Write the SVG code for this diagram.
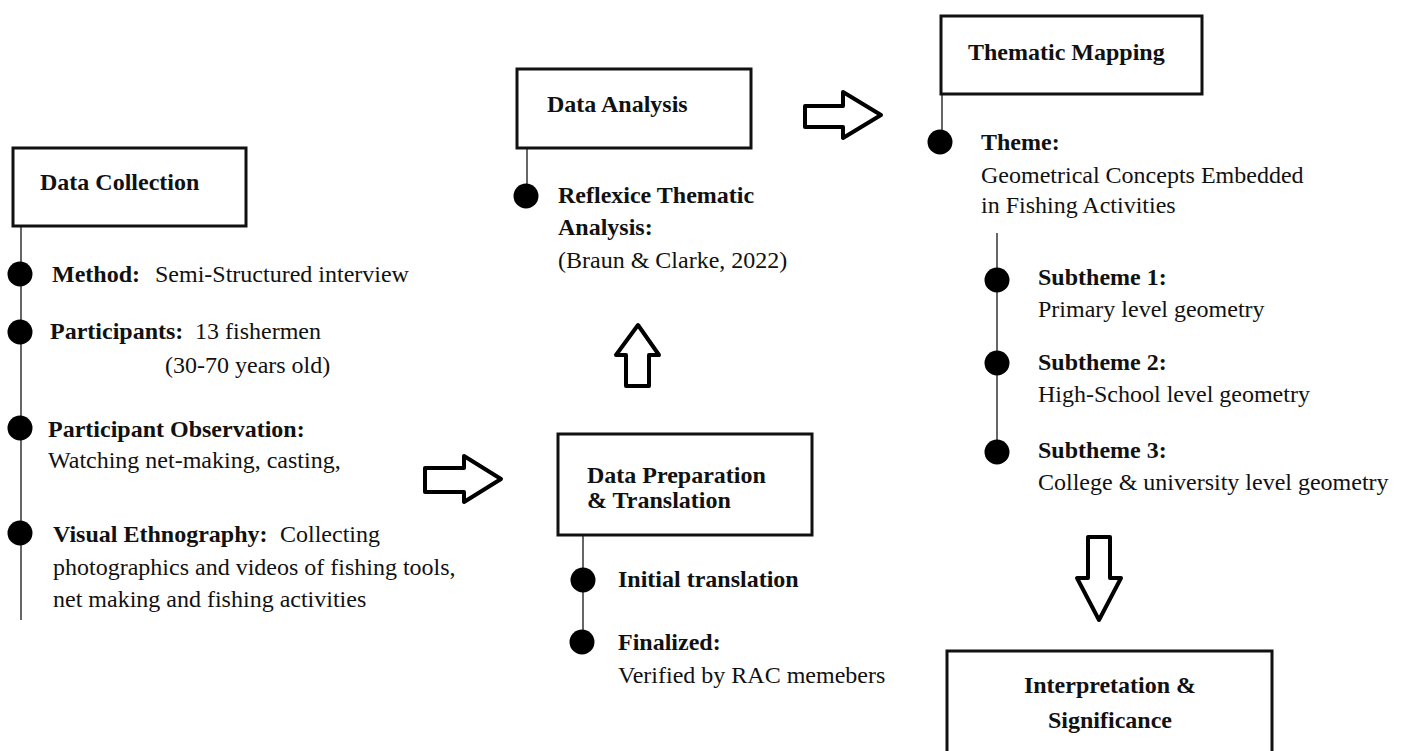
<svg xmlns="http://www.w3.org/2000/svg" width="1411" height="751" viewBox="0 0 1411 751">
<style>
text{font-family:"Liberation Serif","Times New Roman",serif;font-size:24px;fill:#111}
.b{font-weight:bold}
.box{fill:#fff;stroke:#111;stroke-width:3}
.stem{stroke:#666;stroke-width:2;fill:none}
.dot{fill:#000}
.arr{fill:#fff;stroke:#000;stroke-width:4;stroke-linejoin:round}
</style>
<rect width="1411" height="751" fill="#fff"/>
<g id="connectors">
<line class="stem" x1="21" y1="226" x2="21" y2="620"/>
<line class="stem" x1="527" y1="148" x2="527" y2="196"/>
<line class="stem" x1="583" y1="535" x2="583" y2="642"/>
<line class="stem" x1="942" y1="94" x2="942" y2="142"/>
<line class="stem" x1="997" y1="233" x2="997" y2="452"/>
<path class="arr" d="M805,106 L843,106 L843,92 L881,115 L843,138 L843,127 L805,127 Z"/>
<path class="arr" d="M425,468 L464,468 L464,456 L501,479 L464,502 L464,492 L425,492 Z"/>
<path class="arr" d="M638,325 L659,355 L649,355 L649,386 L626,386 L626,355 L616,355 Z"/>
<path class="arr" d="M1088,537 L1110,537 L1110,578 L1121,578 L1099,620 L1077,578 L1088,578 Z"/>
</g>
<g id="data-collection">
<rect class="box" x="13" y="148" width="233" height="78"/>
<text class="b" x="40" y="190">Data Collection</text>
<circle class="dot" cx="20" cy="274" r="12.5"/>
<circle class="dot" cx="20" cy="332" r="12.5"/>
<circle class="dot" cx="20" cy="428" r="12.5"/>
<circle class="dot" cx="20" cy="533" r="12.5"/>
<text x="52" y="282"><tspan class="b">Method:</tspan><tspan x="155">Semi-Structured interview</tspan></text>
<text x="50" y="339"><tspan class="b">Participants:</tspan><tspan x="195">13 fishermen</tspan></text>
<text x="165" y="373">(30-70 years old)</text>
<text class="b" x="48" y="437">Participant Observation:</text>
<text x="48" y="468">Watching net-making, casting,</text>
<text x="53" y="542"><tspan class="b">Visual Ethnography:</tspan><tspan x="280">Collecting</tspan></text>
<text x="53" y="575">photographics and videos of fishing tools,</text>
<text x="53" y="607">net making and fishing activities</text>
</g>
<g id="data-analysis">
<rect class="box" x="517" y="69" width="234" height="79"/>
<text class="b" x="547" y="112">Data Analysis</text>
<circle class="dot" cx="526" cy="196" r="12.5"/>
<text class="b" x="558" y="203">Reflexice Thematic</text>
<text class="b" x="558" y="235">Analysis:</text>
<text x="558" y="268">(Braun &amp; Clarke, 2022)</text>
</g>
<g id="data-preparation">
<rect class="box" x="558" y="434" width="254" height="101"/>
<text class="b" x="587" y="483">Data Preparation</text>
<text class="b" x="587" y="508">&amp; Translation</text>
<circle class="dot" cx="583" cy="580" r="12.5"/>
<circle class="dot" cx="582" cy="642" r="12.5"/>
<text class="b" x="618" y="587">Initial translation</text>
<text class="b" x="618" y="650">Finalized:</text>
<text x="618" y="683">Verified by RAC memebers</text>
</g>
<g id="thematic-mapping">
<rect class="box" x="941" y="16" width="261" height="78"/>
<text class="b" x="968" y="60">Thematic Mapping</text>
<circle class="dot" cx="940" cy="142" r="12.5"/>
<text class="b" x="981" y="150">Theme:</text>
<text x="981" y="183">Geometrical Concepts Embedded</text>
<text x="981" y="213">in Fishing Activities</text>
<circle class="dot" cx="997" cy="280" r="12.5"/>
<circle class="dot" cx="997" cy="363" r="12.5"/>
<circle class="dot" cx="997" cy="452" r="12.5"/>
<text class="b" x="1038" y="285">Subtheme 1:</text>
<text x="1038" y="317">Primary level geometry</text>
<text class="b" x="1038" y="370">Subtheme 2:</text>
<text x="1038" y="402">High-School level geometry</text>
<text class="b" x="1038" y="458">Subtheme 3:</text>
<text x="1038" y="490">College &amp; university level geometry</text>
</g>
<g id="interpretation">
<rect class="box" x="947" y="651" width="325" height="120"/>
<text class="b" x="1110" y="693" text-anchor="middle">Interpretation &amp;</text>
<text class="b" x="1110" y="728" text-anchor="middle">Significance</text>
</g>
</svg>
